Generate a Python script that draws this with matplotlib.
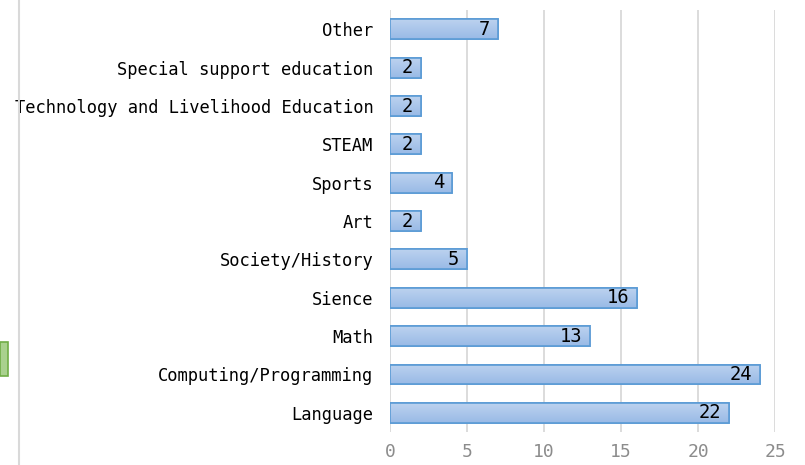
import numpy as np
import matplotlib.pyplot as plt
from matplotlib.patches import Rectangle
from matplotlib.lines import Line2D

categories = ['Language', 'Computing/Programming', 'Math', 'Sience', 'Society/History',
              'Art', 'Sports', 'STEAM', 'Technology and Livelihood Education',
              'Special support education', 'Other']
counts = [22, 24, 13, 16, 5, 2, 4, 2, 2, 2, 7]
xticks = [0, 5, 10, 15, 20, 25]

fig = plt.figure(figsize=(8.05, 4.65), dpi=100)
ax = fig.add_axes([0.4845, 0.071, 0.4785, 0.907])

ypos = list(range(len(categories)))
bars = ax.barh(ypos, counts, height=0.52, color='#A9C6EA', edgecolor='#5B9BD5', linewidth=1.2, zorder=3)

# light gradient inside each bar, like the office style fill
grad = np.linspace(0, 1, 64).reshape(-1, 1)
cmap = plt.matplotlib.colors.LinearSegmentedColormap.from_list('g', ['#BCD2EF', '#99BAE6'])
for b in bars:
    x0, y0 = b.get_x(), b.get_y()
    im = ax.imshow(grad, cmap=cmap, aspect='auto', origin='upper',
                   extent=(x0, x0 + b.get_width(), y0, y0 + b.get_height()), zorder=3.5)
    im.set_clip_path(b)
    ax.add_patch(Rectangle((x0, y0), b.get_width(), b.get_height(), fill=False,
                           edgecolor='#5B9BD5', linewidth=1.2, zorder=3.6))

# value labels inside the bar end
for y, v in zip(ypos, counts):
    ax.text(v - 0.5, y, str(v), ha='right', va='center', fontsize=13.5,
            family='DejaVu Sans Mono', color='black', zorder=4)

ax.set_xlim(0, 25)
ax.set_ylim(-0.5, len(categories) - 0.5)
ax.set_xticks(xticks)
ax.set_yticks(ypos)
ax.set_yticklabels(categories, family='DejaVu Sans Mono', fontsize=12.3)
ax.tick_params(axis='x', colors='#8C8C8C', labelsize=13, length=0, pad=8)
ax.tick_params(axis='y', length=0, pad=12)
for lab in ax.get_xticklabels():
    lab.set_family('DejaVu Sans Mono')
ax.grid(axis='x', color='#D9D9D9', linewidth=1.3, zorder=0)
for s in ax.spines.values():
    s.set_visible(False)

# leftover pieces of the neighbouring chart at the left border
fig.add_artist(Line2D([0.024, 0.024], [0.0, 1.0], color='#D9D9D9', linewidth=1.5))
fig.add_artist(Rectangle((0, 0.192), 0.01, 0.072, facecolor='#A9D18E', edgecolor='#70AD47', linewidth=1.2))

plt.savefig('out.png', dpi=100)
